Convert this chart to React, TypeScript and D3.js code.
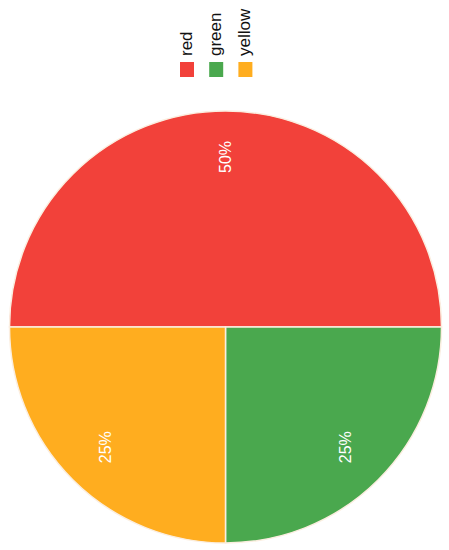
import React from "react";
import * as d3 from "d3";

const categories = ["red", "green", "yellow"];
const values = [50, 25, 25];
const labels = ["50%", "25%", "25%"];
const colors = ["#f2413a", "#4aa84e", "#ffad1f"];

export default function App() {
  const width = 449;
  const height = 550;
  const cx = 225.5;
  const cy = 327;
  const r = 216;
  const pie = d3
    .pie<number>()
    .sort(null)
    .startAngle(-Math.PI / 2)
    .endAngle((3 * Math.PI) / 2)
    .value((d) => d);
  const arcs = pie(values);
  const arc = d3.arc<d3.PieArcDatum<number>>().innerRadius(0).outerRadius(r);
  const labelArc = d3.arc<d3.PieArcDatum<number>>().innerRadius(170).outerRadius(170);
  const legendX = d3
    .scaleBand<string>()
    .domain(categories)
    .range([180, 253])
    .paddingInner(0.5)
    .paddingOuter(0);

  return (
    <svg
      width={width}
      height={height}
      style={{ position: "absolute", left: 0, top: 0, background: "#fff" }}
      fontFamily="'Liberation Sans', Arial, sans-serif"
    >
      <g transform={`translate(${cx},${cy})`}>
        {arcs.map((a, i) => (
          <path key={i} d={arc(a) || ""} fill={colors[i]} stroke="#fbeee0" strokeWidth={1.5} />
        ))}
        {arcs.map((a, i) => {
          const [x, y] = labelArc.centroid(a);
          return (
            <text
              key={"l" + i}
              transform={`translate(${x},${y}) rotate(-90)`}
              textAnchor="middle"
              dy="0.35em"
              fill="#fff"
              fontSize={16}
            >
              {labels[i]}
            </text>
          );
        })}
      </g>
      <g>
        {categories.map((c, i) => {
          const x = legendX(c) as number;
          return (
            <g key={c}>
              <rect x={x} y={62} width={14} height={15} fill={colors[i]} />
              <text
                transform={`translate(${x + 12},56) rotate(-90)`}
                textAnchor="start"
                fontSize={17}
                fill="#111"
              >
                {c}
              </text>
            </g>
          );
        })}
      </g>
    </svg>
  );
}
